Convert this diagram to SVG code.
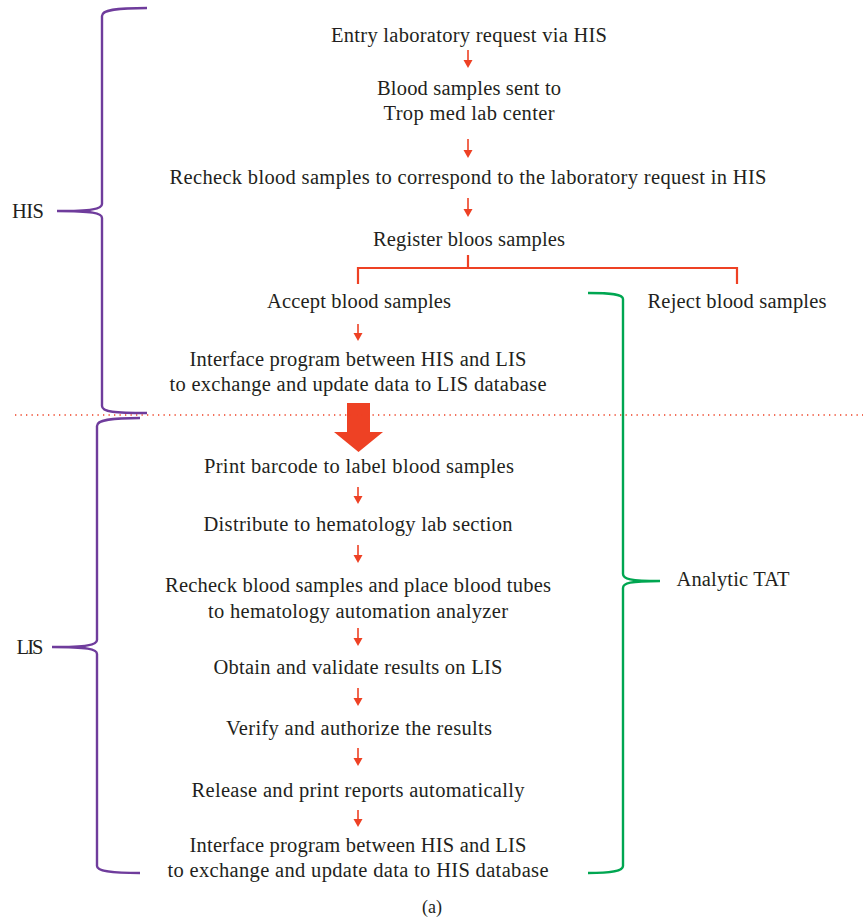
<svg xmlns="http://www.w3.org/2000/svg" width="863" height="921" viewBox="0 0 863 921">
<defs>
<style>
text{font-family:"Liberation Serif","Times New Roman",serif;font-size:20.5px;fill:#231f20;text-anchor:middle}
.arr{stroke:#ee4124;stroke-width:1.6;fill:none}
.hd{fill:#ee4124}
.red{stroke:#ee4124;stroke-width:2.2;fill:none}
.pur{stroke:#6f3c9c;stroke-width:2.4;fill:none}
.grn{stroke:#00a651;stroke-width:2.4;fill:none}
</style>
</defs>
<rect width="863" height="921" fill="#fff"/>
<g id="connectors">
<line class="arr" x1="468" y1="50" x2="468" y2="60"/><path class="hd" d="M463.5,60 L472.5,60 L468,68 Z"/>
<line class="arr" x1="468" y1="139" x2="468" y2="150"/><path class="hd" d="M463.5,150 L472.5,150 L468,158 Z"/>
<line class="arr" x1="468" y1="198" x2="468" y2="209"/><path class="hd" d="M463.5,209 L472.5,209 L468,217 Z"/>
<path class="red" d="M468,255 V268 M358,284 V268 H737 V284"/>
<line class="arr" x1="358" y1="324" x2="358" y2="333"/><path class="hd" d="M353.5,333 L362.5,333 L358,341 Z"/>
<path class="hd" d="M347,403 H370 V432 H383 L358.5,452 L334,432 H347 Z"/>
<line class="arr" x1="358" y1="487" x2="358" y2="496"/><path class="hd" d="M353.5,496 L362.5,496 L358,504 Z"/>
<line class="arr" x1="358" y1="545" x2="358" y2="555"/><path class="hd" d="M353.5,555 L362.5,555 L358,563 Z"/>
<line class="arr" x1="358" y1="628" x2="358" y2="638"/><path class="hd" d="M353.5,638 L362.5,638 L358,646 Z"/>
<line class="arr" x1="358" y1="688" x2="358" y2="698"/><path class="hd" d="M353.5,698 L362.5,698 L358,706 Z"/>
<line class="arr" x1="358" y1="748" x2="358" y2="758"/><path class="hd" d="M353.5,758 L362.5,758 L358,766 Z"/>
<line class="arr" x1="358" y1="810" x2="358" y2="819"/><path class="hd" d="M353.5,819 L362.5,819 L358,827 Z"/>
<line x1="15" y1="415" x2="863" y2="415" stroke="#ee4124" stroke-width="1.3" stroke-dasharray="1.3 4.2"/>
</g>
<g id="his-brace">
<path class="pur" d="M147,8 C115,8 102,10 102,16 V204 C102,209 92,211 57,211 C92,211 102,213 102,218 V406 C102,412 115,413 147,413"/>
<text x="28" y="218" textLength="32">HIS</text>
</g>
<g id="lis-brace">
<path class="pur" d="M140,418 C110,418 97,420 97,426 V640 C97,645 87,647 52,647 C87,647 97,649 97,654 V866 C97,871 110,873 140,873"/>
<text x="30" y="654" textLength="27">LIS</text>
</g>
<g id="tat-brace">
<path class="grn" d="M588,293 C612,293 623,294 623,299 V574 C623,579 630,581 660,581 C630,581 623,583 623,588 V866 C623,871 612,873 588,873"/>
<text x="733" y="586" textLength="113">Analytic TAT</text>
</g>
<g id="n1"><text x="469" y="42" textLength="276">Entry laboratory request via HIS</text></g>
<g id="n2"><text x="469" y="95" textLength="184">Blood samples sent to</text><text x="469" y="120" textLength="171">Trop med lab center</text></g>
<g id="n3"><text x="468" y="184" textLength="597">Recheck blood samples to correspond to the laboratory request in HIS</text></g>
<g id="n4"><text x="469" y="246" textLength="192">Register bloos samples</text></g>
<g id="n5"><text x="359" y="308" textLength="184">Accept blood samples</text></g>
<g id="n6"><text x="737" y="308" textLength="179">Reject blood samples</text></g>
<g id="n7"><text x="358" y="366" textLength="337">Interface program between HIS and LIS</text><text x="358" y="391" textLength="377">to exchange and update data to LIS database</text></g>
<g id="n8"><text x="359" y="473" textLength="310">Print barcode to label blood samples</text></g>
<g id="n9"><text x="358" y="531" textLength="309">Distribute to hematology lab section</text></g>
<g id="n10"><text x="358" y="592" textLength="386">Recheck blood samples and place blood tubes</text><text x="358" y="618" textLength="300">to hematology automation analyzer</text></g>
<g id="n11"><text x="358" y="674" textLength="289">Obtain and validate results on LIS</text></g>
<g id="n12"><text x="359" y="735" textLength="266">Verify and authorize the results</text></g>
<g id="n13"><text x="358" y="797" textLength="333">Release and print reports automatically</text></g>
<g id="n14"><text x="358" y="852" textLength="337">Interface program between HIS and LIS</text><text x="358" y="877" textLength="381">to exchange and update data to HIS database</text></g>
<g id="caption"><text x="432" y="913" style="font-size:18px">(a)</text></g>
</svg>
